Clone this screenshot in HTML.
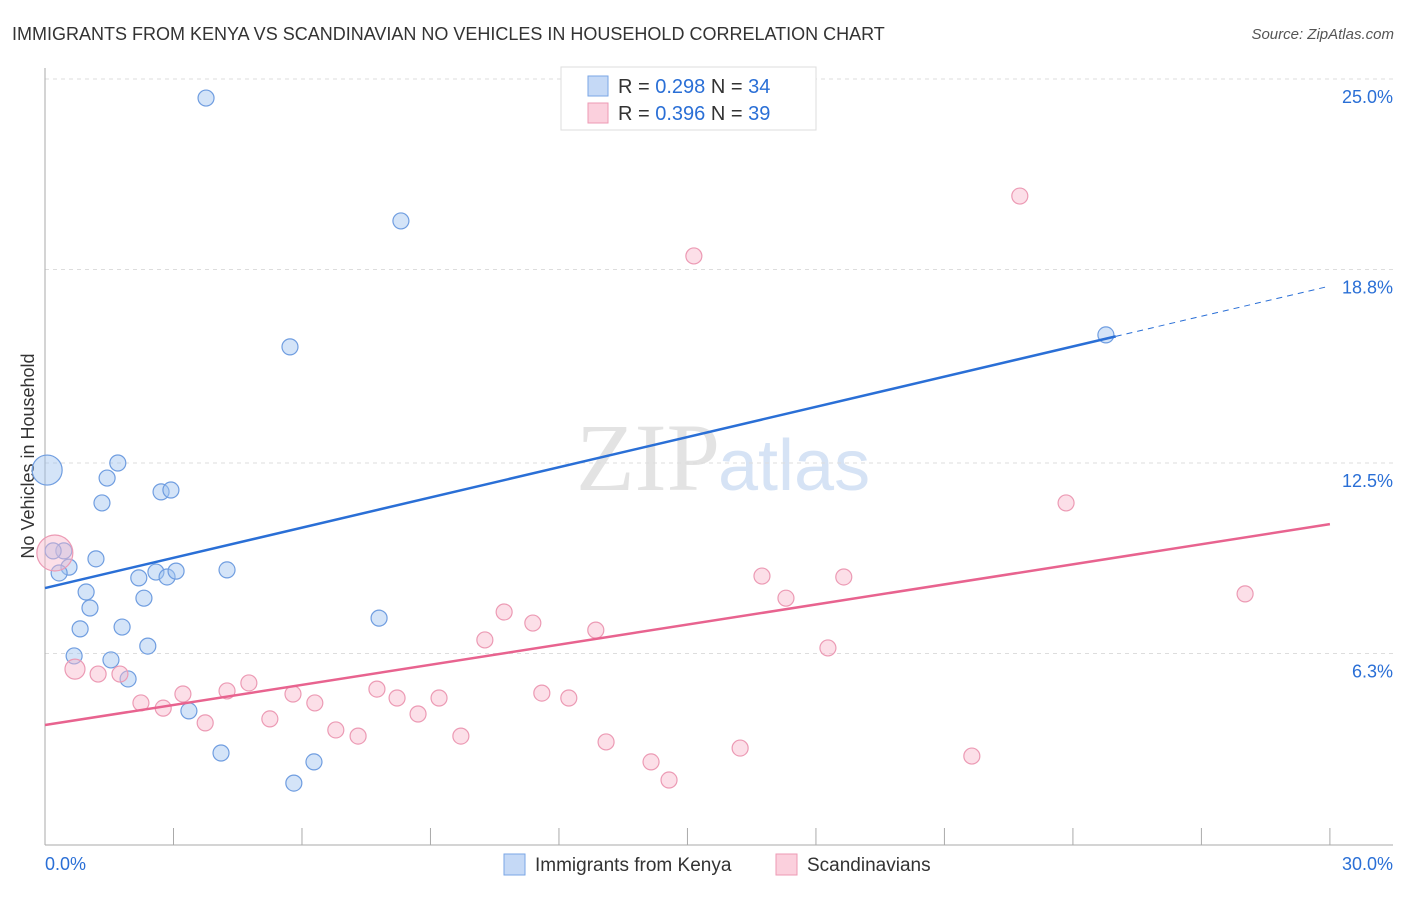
<!DOCTYPE html>
<html><head><meta charset="utf-8"><style>
body{margin:0;background:#fff;font-family:"Liberation Sans",sans-serif;}
</style></head><body>
<svg width="1406" height="892" xmlns="http://www.w3.org/2000/svg" id="svg" font-family="Liberation Sans, sans-serif">
<text x="12" y="40" font-size="18" fill="#333">IMMIGRANTS FROM KENYA VS SCANDINAVIAN NO VEHICLES IN HOUSEHOLD CORRELATION CHART</text>
<text x="1394" y="39" font-size="15" fill="#555" font-style="italic" text-anchor="end">Source: ZipAtlas.com</text>
<text x="720" y="490" font-size="96" fill="#e3e3e3" text-anchor="end" font-family="Liberation Serif, serif">ZIP</text>
<text x="718" y="490" font-size="72" fill="#d6e3f5">atlas</text>
<text transform="translate(34,456) rotate(-90)" font-size="18" fill="#333" text-anchor="middle">No Vehicles in Household</text>
<g id="grid"></g><g id="pts"></g><g id="lines"></g>
<g>
<rect x="561" y="67" width="255" height="63" fill="#fff" stroke="#ddd"/>
<rect x="588" y="76" width="20" height="20" fill="#c5d9f6" stroke="#7aa6e6"/>
<rect x="588" y="103" width="20" height="20" fill="#fbd0dd" stroke="#ee9ab4"/>
<text x="618" y="93" font-size="20" fill="#333">R = <tspan fill="#2a6fd6">0.298</tspan>   N = <tspan fill="#2a6fd6">34</tspan></text>
<text x="618" y="120" font-size="20" fill="#333">R = <tspan fill="#2a6fd6">0.396</tspan>   N = <tspan fill="#2a6fd6">39</tspan></text>
</g>
<g>
<rect x="504" y="854" width="21" height="21" fill="#c5d9f6" stroke="#7aa6e6"/>
<text x="535" y="871" font-size="19" fill="#333">Immigrants from Kenya</text>
<rect x="776" y="854" width="21" height="21" fill="#fbd0dd" stroke="#ee9ab4"/>
<text x="807" y="871" font-size="19" fill="#333">Scandinavians</text>
</g>
<text x="45" y="870" font-size="18" fill="#2a6fd6">0.0%</text>
<text x="1393" y="870" font-size="18" fill="#2a6fd6" text-anchor="end">30.0%</text>
</svg>
<script>
const yTicks=[25.0,18.8,12.5,6.3];
const yTickLabels=["25.0%","18.8%","12.5%","6.3%"];
const xTicks=[0,3,6,9,12,15,18,21,24,27,30];
const kenyaX=[3.76,8.31,5.72,24.77,0.05,1.70,1.45,1.33,2.71,2.94,0.44,0.19,1.19,0.56,0.33,2.19,2.59,2.85,3.06,4.25,0.96,2.31,1.05,1.80,0.82,7.80,2.40,0.68,1.54,1.94,3.36,4.11,6.28,5.81];
const kenyaY=[24.38,20.38,16.28,16.67,12.27,12.5,12.01,11.2,11.56,11.62,9.64,9.64,9.38,9.11,8.92,8.76,8.95,8.79,8.98,9.02,8.3,8.1,7.78,7.16,7.1,7.45,6.54,6.22,6.09,5.47,4.43,3.06,2.77,2.08];
const scanX=[0.23,0.70,1.24,1.75,2.24,2.76,3.22,3.74,4.25,4.76,5.25,5.79,6.30,6.79,7.31,7.75,8.22,8.71,9.20,9.71,10.27,10.72,11.39,11.60,12.23,12.86,13.10,14.15,14.57,15.15,16.23,16.74,17.30,18.28,18.65,21.64,22.76,23.84,28.02];
const scanY=[9.57,5.79,5.63,5.63,4.69,4.52,4.98,4.04,5.08,5.34,4.17,4.98,4.69,3.81,3.61,5.14,4.85,4.33,4.85,3.61,6.74,7.65,7.29,5.01,4.85,7.06,3.42,2.77,2.18,19.24,3.22,8.82,8.1,6.48,8.79,2.96,21.19,11.2,8.24];
const kenyaTrend=[8.43,18.26];
const scanTrend=[3.97,10.51];
const NS="http://www.w3.org/2000/svg";
const X=v=>45+v*42.83, Y=v=>847-v*30.72;
function mk(t,a,p){const e=document.createElementNS(NS,t);for(const k in a)e.setAttribute(k,a[k]);p.appendChild(e);return e;}
const grid=document.getElementById('grid');
yTicks.forEach((t,i)=>{
 const l=mk('line',{x1:45,x2:1393,y1:Y(t),y2:Y(t),stroke:'#ddd','stroke-dasharray':'4,4'},grid);
 
 
 const tx=mk('text',{x:1393,y:Y(t)+24,'font-size':18,fill:'#2a6fd6','text-anchor':'end'},grid);
 tx.textContent=yTickLabels[i];
 
 
});
const ax=mk('line',{x1:45,x2:1393,y1:845,y2:845,stroke:'#aaa'},grid);


const ay=mk('line',{x1:45,x2:45,y1:68,y2:845,stroke:'#aaa'},grid);


xTicks.forEach(t=>{const l=mk('line',{x1:X(t),x2:X(t),y1:828,y2:845,stroke:'#aaa'},grid);
 
 });
const pts=document.getElementById('pts');
kenyaX.forEach((x,i)=>{const r=i===4?15:8;const c=mk('circle',{cx:X(x),cy:Y(kenyaY[i]),r:r,fill:'rgba(160,195,240,0.45)',stroke:'#6f9de0','stroke-width':1.2},pts);
 
 });
scanX.forEach((x,i)=>{const r=i===0?18:(i===1?10:8);const c=mk('circle',{cx:X(x),cy:Y(scanY[i]),r:r,fill:'rgba(248,185,205,0.45)',stroke:'#ec9ab4','stroke-width':1.2},pts);
 
 });
const lines=document.getElementById('lines');
const kAt=v=>kenyaTrend[0]+(kenyaTrend[1]-kenyaTrend[0])*v/30;
const sAt=v=>scanTrend[0]+(scanTrend[1]-scanTrend[0])*v/30;
const l1=mk('line',{x1:X(0),y1:Y(kAt(0)),x2:X(25),y2:Y(kAt(25)),stroke:'#2a6fd6','stroke-width':2.5},lines);


const l2=mk('line',{x1:X(25),y1:Y(kAt(25)),x2:X(30),y2:Y(kAt(30)),stroke:'#2a6fd6','stroke-width':1,'stroke-dasharray':'6,5'},lines);


const l3=mk('line',{x1:X(0),y1:Y(sAt(0)),x2:X(30),y2:Y(sAt(30)),stroke:'#e8638f','stroke-width':2.5},lines);


</script>
</body></html>
